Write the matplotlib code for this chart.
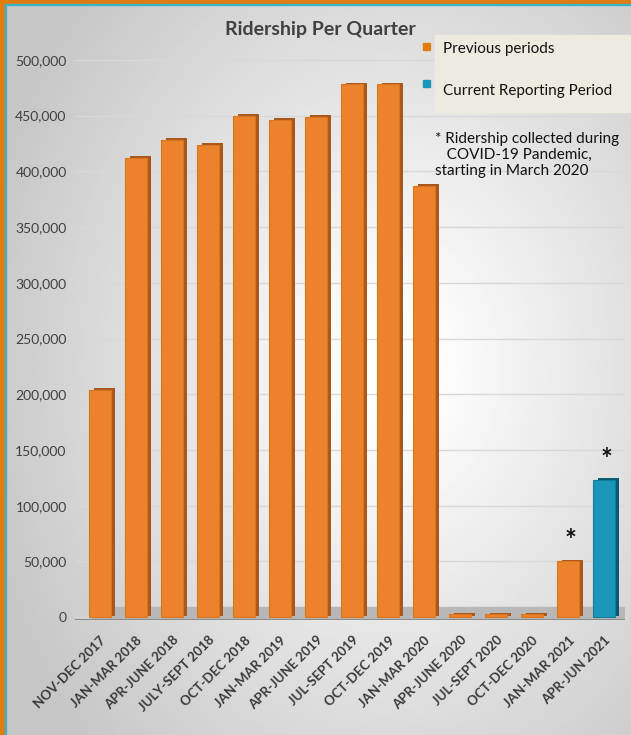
import numpy as np
import matplotlib.pyplot as plt
from matplotlib.patches import Rectangle

plt.rcParams['font.family'] = ['Lato', 'DejaVu Sans']

quarters = ["NOV-DEC 2017", "JAN-MAR 2018", "APR-JUNE 2018", "JULY-SEPT 2018",
            "OCT-DEC 2018", "JAN-MAR 2019", "APR-JUNE 2019", "JUL-SEPT 2019",
            "OCT-DEC 2019", "JAN-MAR 2020", "APR-JUNE 2020", "JUL-SEPT 2020",
            "OCT-DEC 2020", "JAN-MAR 2021", "APR-JUN 2021"]
riders = [204000, 412000, 428000, 424000, 450000, 446000, 449000, 478000,
          478000, 387000, 2500, 2500, 2500, 50000, 123000]
is_current = [False] * 14 + [True]
covid_marked = [13, 14]
yticks = list(range(0, 500001, 50000))

front = {False: "#EC832C", True: "#1A96B9"}
side = {False: "#A9581C", True: "#0C5A70"}
top = {False: "#D9741F", True: "#137E9C"}

W, H = 631, 735
fig = plt.figure(figsize=(W / 100, H / 100), dpi=100)

# radial grey background, light in the middle
bg = fig.add_axes([0, 0, 1, 1], zorder=-10)
yy, xx = np.mgrid[0:1:300j, 0:1:300j]
r = np.sqrt(((xx - 0.62) / 1.0) ** 2 + ((yy - 0.5) / 1.1) ** 2)
bg.imshow(np.clip(1.02 - r * 0.36, 0.78, 1.0), cmap="gray", vmin=0, vmax=1,
          extent=[0, 1, 0, 1], aspect="auto", origin="upper")
bg.axis("off")

# border on left and top
fig.add_artist(Rectangle((0, 0), 5 / W, 1, transform=fig.transFigure, color="#DF7D10", zorder=5))
fig.add_artist(Rectangle((0, 1 - 4 / H), 1, 4 / H, transform=fig.transFigure, color="#DF7D10", zorder=5))
fig.add_artist(Rectangle((5 / W, 0), 1.2 / W, 1 - 4 / H, transform=fig.transFigure, color="#3BB4C8", zorder=5))
fig.add_artist(Rectangle((5 / W, 1 - 5.2 / H), 1, 1.2 / H, transform=fig.transFigure, color="#3BB4C8", zorder=5))

ax = fig.add_axes([75 / W, 115 / H, 550 / W, 582.4 / H])
ax.patch.set_alpha(0)
x = np.arange(len(quarters))
bw = 0.6

# floor slab
ax.axhspan(-2500, 9000, xmin=0.03, xmax=1.0, color="#B8B8B8", zorder=1)
ax.axhline(-2500, xmin=0.0, xmax=1.0, color="#8C8C8C", lw=1.5, zorder=1)

for i, v in enumerate(riders):
    c = is_current[i]
    ax.bar(x[i] + 0.12, v, width=bw, bottom=1500, color=side[c], zorder=2)
    ax.bar(x[i], v, width=bw, bottom=0, color=front[c], edgecolor=top[c], linewidth=0.8, zorder=3)

for i in covid_marked:
    ax.text(x[i] + 0.07, riders[i] + 18000, "*", ha="center", va="center",
            fontsize=20, fontweight="bold", color="#111111")

ax.set_xlim(-0.694, 14.58)
ax.set_ylim(-2500, 520000)
ax.set_yticks(yticks)
ax.set_yticklabels([f"{t:,}" for t in yticks], fontsize=10, color="#404040")
ax.yaxis.grid(True, color="#D8D8D8", lw=1)
ax.set_axisbelow(True)
ax.set_xticks(x)
ax.set_xticklabels(quarters, rotation=45, ha="right", rotation_mode="anchor",
                   fontsize=9.5, fontweight="bold", color="#3A3A3A")
ax.tick_params(length=0, pad=6)
ax.tick_params(axis="x", pad=10)
for s in ax.spines.values():
    s.set_visible(False)

fig.text(320 / W, 1 - 30 / H, "Ridership Per Quarter", ha="center", va="center",
         fontsize=14, fontweight="bold", color="#404040")

# legend
fig.add_artist(Rectangle((435 / W, 1 - 112 / H), 196 / W, 77 / H, transform=fig.transFigure,
                         color="#EDEBE0", zorder=4))
fig.add_artist(Rectangle((423 / W, 1 - 50 / H), 7 / W, 7 / H, transform=fig.transFigure,
                         color="#E07D12", zorder=5))
fig.add_artist(Rectangle((423 / W, 1 - 87 / H), 7 / W, 7 / H, transform=fig.transFigure,
                         color="#1A96B9", zorder=5))
fig.text(443 / W, 1 - 49 / H, "Previous periods", fontsize=11, va="center", color="#111111", zorder=6)
fig.text(443 / W, 1 - 91 / H, "Current Reporting Period", fontsize=11, va="center", color="#111111", zorder=6)

fig.text(435 / W, 1 - 155 / H, "* Ridership collected during\n   COVID-19 Pandemic,\nstarting in March 2020",
         fontsize=11, va="center", ha="left", color="#111111", linespacing=1.15)

fig.savefig("out.png", dpi=100)
